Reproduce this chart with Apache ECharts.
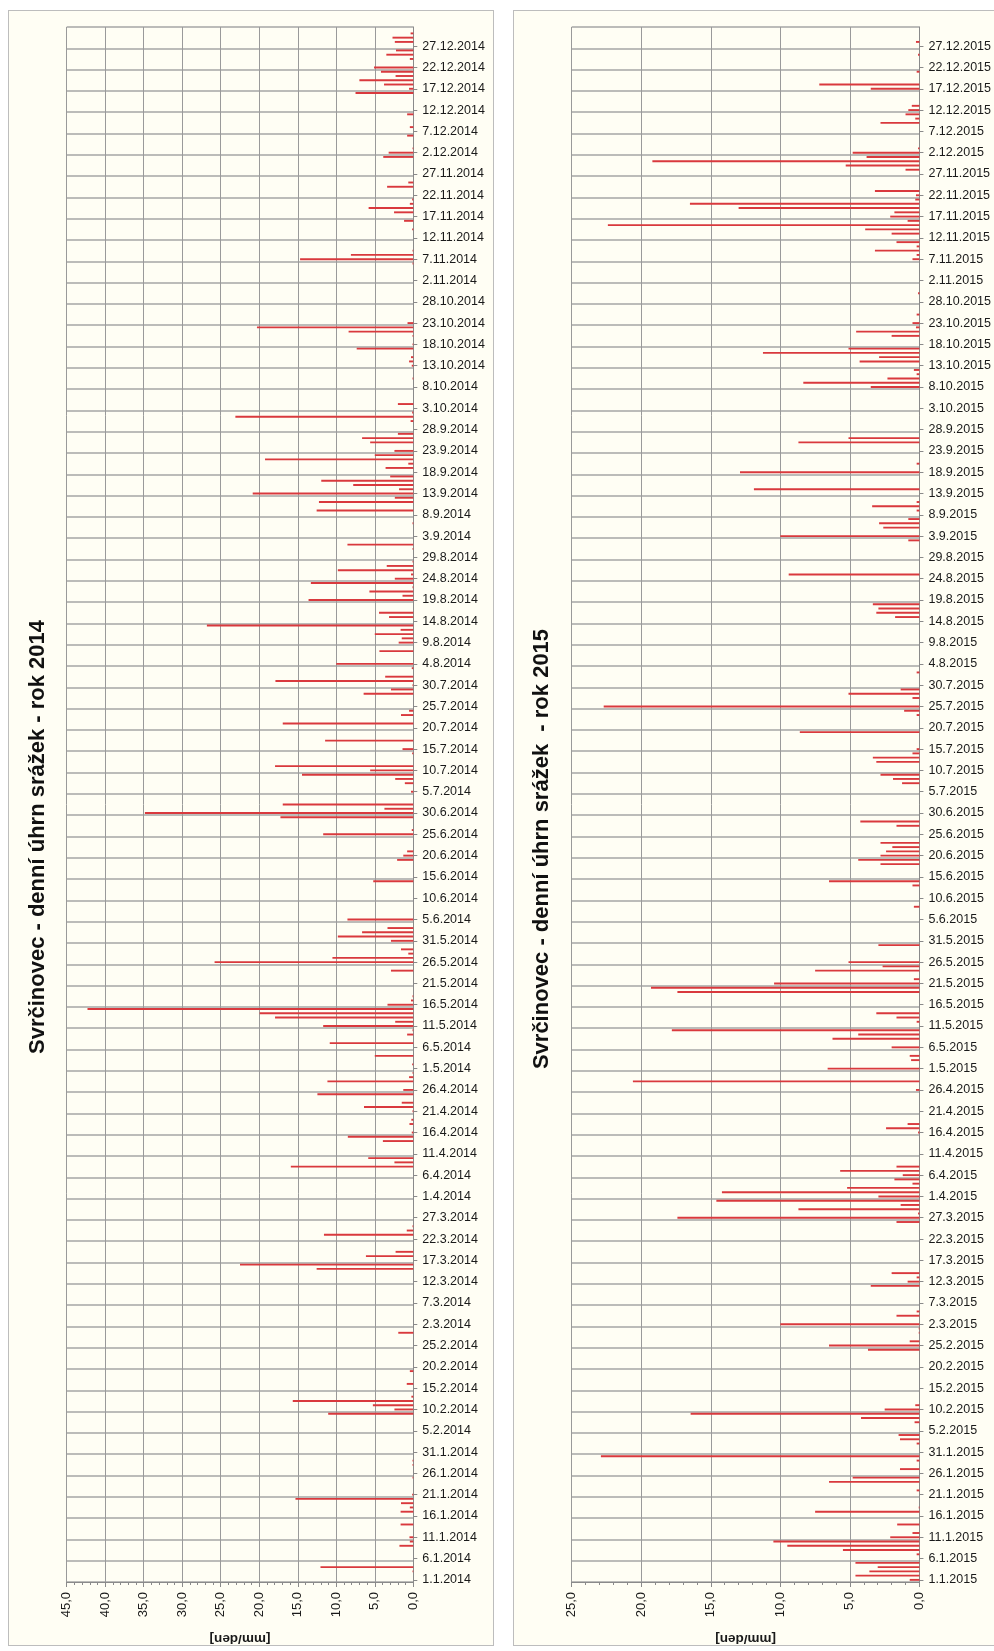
<!DOCTYPE html>
<html>
<head>
<meta charset="utf-8">
<script src="https://cdn.jsdelivr.net/npm/echarts@6/dist/echarts.min.js"></script>
<style>
  html, body { margin: 0; padding: 0; background: #ffffff; width: 994px; height: 1651px; overflow: hidden; }
  .panel { position: absolute; top: 10px; height: 1636px; background: #FFFEF4; border: 1px solid #BDBDBD; box-sizing: border-box; }
  #chart { position: absolute; left: 0; top: 0; width: 994px; height: 1651px; }
</style>
</head>
<body>
<div class="panel" style="left:8px; width:486px;"></div>
<div class="panel" style="left:513px; width:500px;"></div>
<div id="chart"></div>
<script>
// Denní úhrn srážek, Svrčinovec [mm/den] – jen dny se srážkami, ostatní dny = 0
const dny2014 = [
  '3.1','4.1','9.1','10.1','11.1','14.1','17.1','18.1','19.1','20.1','21.1','25.1','28.1','29.1',
  '9.2','10.2','11.2','12.2','13.2','16.2','19.2','28.2',
  '15.3','16.3','18.3','19.3','23.3','24.3','25.3',
  '8.4','9.4','10.4','14.4','15.4','16.4','18.4','19.4','21.4','22.4','23.4','25.4','26.4','28.4','29.4','30.4',
  '2.5','4.5','7.5','9.5','10.5','11.5','12.5','13.5','14.5','15.5','16.5','17.5','18.5','24.5','26.5','27.5','28.5','29.5','31.5',
  '1.6','2.6','3.6','5.6','14.6','19.6','20.6','21.6','25.6','26.6','29.6','30.6',
  '1.7','2.7','5.7','7.7','8.7','9.7','10.7','11.7','14.7','15.7','17.7','21.7','23.7','24.7','28.7','29.7','30.7','31.7',
  '1.8','3.8','4.8','7.8','9.8','10.8','11.8','12.8','13.8','15.8','16.8','19.8','20.8','21.8','22.8','23.8','24.8','25.8','26.8','27.8','28.8','31.8',
  '1.9','6.9','9.9','11.9','12.9','13.9','14.9','15.9','16.9','17.9','19.9','20.9','21.9','22.9','23.9','25.9','26.9','27.9','30.9',
  '1.10','2.10','4.10','10.10','13.10','14.10','15.10','17.10','18.10','20.10','21.10','22.10','23.10',
  '6.11','7.11','8.11','9.11','14.11','16.11','18.11','19.11','20.11','21.11','24.11','25.11',
  '1.12','2.12','3.12','6.12','8.12','11.12','16.12','17.12','18.12','19.12','20.12','21.12','22.12','24.12','25.12','26.12','28.12','29.12','30.12'
];
const uhrn2014 = [
  0.1, 12.05, 1.8, 0.45, 0.5, 1.65, 1.65, 0.45, 1.6, 15.3, 0.15, 0.1, 0.1, 0.1,
  11.05, 2.45, 5.25, 15.65, 0.25, 0.85, 0.45, 1.95,
  12.55, 22.5, 6.15, 2.3, 11.6, 0.85, 0.1,
  15.9, 2.45, 5.85, 3.95, 8.5, 0.2, 0.5, 0.25, 0.1, 6.4, 1.5, 12.45, 1.3, 11.15, 0.55, 0.1,
  0.15, 5.0, 10.85, 0.8, 0.1, 11.7, 2.35, 17.95, 19.95, 42.3, 3.35, 0.3, 0.1, 2.9, 25.8, 10.5, 0.65, 1.6, 2.9,
  9.8, 6.65, 3.35, 8.55, 5.2, 2.1, 1.3, 0.8, 11.7, 0.2, 17.25, 34.85,
  3.75, 16.95, 0.3, 1.1, 2.35, 14.45, 5.6, 17.95, 0.15, 1.4, 11.45, 16.95, 1.6, 0.55, 6.45, 2.9, 0.1, 17.9,
  3.65, 0.2, 10.0, 4.4, 1.9, 1.5, 5.0, 1.65, 26.8, 3.15, 4.45, 13.6, 1.4, 5.7, 0.1, 13.3, 2.4, 0.3, 9.8, 3.45, 0.1, 0.1,
  8.55, 0.1, 12.55, 12.25, 2.4, 20.85, 1.85, 7.8, 11.95, 3.0, 3.6, 0.65, 19.25, 5.0, 2.45, 5.6, 6.65, 2.0, 0.35,
  23.1, 0.15, 2.0, 0.1, 0.2, 0.55, 0.3, 7.35, 0.1, 0.1, 8.4, 20.3, 0.75,
  0.1, 14.7, 8.1, 0.1, 0.15, 1.2, 2.5, 5.8, 0.45, 0.15, 3.4, 0.65,
  3.9, 3.2, 0.1, 0.8, 0.45, 0.8, 7.5, 0.55, 3.8, 7.0, 2.3, 4.2, 5.1, 0.45, 3.5, 2.25, 2.4, 2.7, 0.35
];

const dny2015 = [
  '1.1','2.1','3.1','4.1','5.1','7.1','8.1','9.1','10.1','11.1','12.1','14.1','17.1','18.1','22.1','24.1','25.1','27.1','29.1','30.1',
  '2.2','3.2','4.2','7.2','8.2','9.2','10.2','11.2','24.2','25.2','26.2','28.2',
  '1.3','2.3','4.3','5.3','11.3','12.3','13.3','14.3','26.3','27.3','28.3','29.3','30.3','31.3',
  '1.4','2.4','3.4','4.4','5.4','6.4','7.4','8.4','16.4','17.4','18.4','26.4','28.4',
  '1.5','3.5','4.5','6.5','8.5','9.5','10.5','12.5','13.5','14.5','19.5','20.5','21.5','22.5','24.5','25.5','26.5','30.5',
  '8.6','13.6','14.6','18.6','19.6','20.6','21.6','22.6','23.6','27.6','28.6',
  '7.7','8.7','9.7','12.7','13.7','14.7','15.7','19.7','23.7','24.7','25.7','27.7','28.7','29.7',
  '2.8','15.8','16.8','17.8','18.8','25.8',
  '2.9','3.9','5.9','6.9','7.9','9.9','10.9','11.9','14.9','18.9','20.9','25.9','26.9',
  '8.10','9.10','10.10','11.10','12.10','14.10','15.10','16.10','17.10','20.10','21.10','22.10','23.10','25.10','30.10',
  '7.11','8.11','9.11','10.11','11.11','13.11','14.11','15.11','16.11','17.11','18.11','19.11','20.11','21.11','22.11','23.11','28.11','29.11','30.11',
  '1.12','2.12','3.12','9.12','10.12','11.12','12.12','13.12','17.12','18.12','21.12','25.12','28.12'
];
const uhrn2015 = [
  0.7, 4.6, 3.6, 3.0, 4.6, 0.2, 5.5, 9.5, 10.5, 2.1, 0.5, 1.6, 7.5, 0.05, 0.2, 6.5, 4.8, 1.4, 0.2, 22.9,
  0.2, 1.4, 1.5, 0.35, 4.2, 16.45, 2.5, 0.3, 3.7, 6.5, 0.7, 0.05,
  0.05, 10.0, 1.65, 0.2, 3.5, 0.85, 0.2, 2.0, 1.65, 17.4, 0.1, 8.7, 1.35, 14.6,
  2.95, 14.2, 5.2, 0.5, 1.8, 1.2, 5.7, 1.65, 0.1, 2.4, 0.85, 0.25, 20.6,
  6.6, 0.6, 0.7, 2.0, 6.25, 4.4, 17.8, 0.2, 1.65, 3.1, 17.4, 19.3, 10.45, 0.4, 7.5, 2.65, 5.1, 2.95,
  0.4, 0.5, 6.5, 2.8, 4.4, 2.8, 2.4, 1.95, 2.8, 1.65, 4.25,
  1.25, 1.9, 2.8, 3.1, 3.35, 0.5, 0.2, 8.6, 0.2, 1.1, 22.7, 0.5, 5.1, 1.35,
  0.2, 1.75, 3.1, 2.95, 3.35, 9.4,
  0.8, 10.0, 2.6, 2.9, 0.8, 0.2, 3.4, 0.2, 11.9, 12.9, 0.2, 8.7, 5.1,
  3.5, 8.35, 2.3, 0.2, 0.4, 4.3, 2.9, 11.25, 5.1, 2.0, 4.55, 0.25, 0.5, 0.2, 0.1,
  0.5, 0.2, 3.2, 0.2, 1.65, 2.0, 3.9, 22.4, 0.85, 2.1, 1.8, 13.0, 16.5, 0.3, 0.25, 3.2, 1.0, 5.3, 19.2,
  3.8, 4.8, 0.1, 2.8, 0.3, 1.0, 0.8, 0.55, 3.5, 7.2, 0.2, 0.1, 0.25
];

// rozsahy os [mm/den]
const osaMax2014 = 45;
const osaMax2015 = 25;
const krokOsy = 5;

const nadpis2014 = 'Svrčinovec - denní úhrn srážek - rok 2014';
const nadpis2015 = 'Svrčinovec - denní úhrn srážek  - rok 2015';
const nazevOsy = '[mm/den]';

// popisky všech dnů roku (d.m.rrrr)
function dnyRoku(rok) {
  const out = [];
  const start = Date.UTC(rok, 0, 1);
  for (let t = start; new Date(t).getUTCFullYear() === rok; t += 86400000) {
    const d = new Date(t);
    out.push(d.getUTCDate() + '.' + (d.getUTCMonth() + 1) + '.' + rok);
  }
  return out;
}
// celoroční řada: dny bez záznamu mají 0
function rada(rok, dny, hodnoty) {
  const n = dnyRoku(rok).length;
  const arr = new Array(n).fill(0);
  const start = Date.UTC(rok, 0, 1);
  dny.forEach((s, i) => {
    const [d, m] = s.split('.').map(Number);
    const idx = Math.round((Date.UTC(rok, m - 1, d) - start) / 86400000);
    arr[idx] = hodnoty[i];
  });
  return arr;
}

const FONT = '"Liberation Sans", Arial, sans-serif';
const osaBarva = '#8A8A8A';
const textBarva = '#1A1A1A';

function osaX(grid, max) {
  return {
    gridIndex: grid, type: 'value', inverse: true, min: 0, max: max, interval: krokOsy,
    axisLine: { show: true, lineStyle: { color: osaBarva, width: 1 } },
    axisTick: { show: true, length: 5, lineStyle: { color: osaBarva } },
    minorTick: { show: true, splitNumber: 5, length: 3, lineStyle: { color: osaBarva } },
    splitLine: { show: true, lineStyle: { color: '#9A9A9A', width: 1 } },
    axisLabel: {
      rotate: 90, margin: 10, fontSize: 13, color: textBarva, fontFamily: FONT,
      formatter: v => v.toFixed(1).replace('.', ',')
    },
    name: nazevOsy, nameLocation: 'middle', nameGap: 50, nameRotate: 180,
    nameTextStyle: { fontWeight: 'bold', fontSize: 13.5, color: textBarva, fontFamily: FONT }
  };
}
function osaY(grid, rok) {
  return {
    gridIndex: grid, type: 'category', position: 'right', data: dnyRoku(rok),
    axisLine: { show: true, lineStyle: { color: osaBarva, width: 1 } },
    axisTick: { show: true, interval: 4, alignWithLabel: true, length: 4, lineStyle: { color: osaBarva } },
    axisLabel: { interval: 4, margin: 9, fontSize: 12.5, color: textBarva, fontFamily: FONT },
    splitLine: { show: true, interval: 4, lineStyle: { color: '#A6A6A6', width: 1.5 } }
  };
}
function sloupce(i, data) {
  return {
    type: 'bar', xAxisIndex: i, yAxisIndex: i, data: data, barWidth: 1.9,
    itemStyle: { color: '#D9393D' }, silent: true
  };
}
function nadpis(x, y, text) {
  return {
    type: 'text', x: x, y: y, rotation: Math.PI / 2,
    style: {
      text: text, font: 'bold 22px ' + FONT, fill: '#111111',
      align: 'center', verticalAlign: 'middle', textAlign: 'center', textVerticalAlign: 'middle'
    }
  };
}

const chart = echarts.init(document.getElementById('chart'), null, { renderer: 'canvas' });
chart.setOption({
  animation: false,
  backgroundColor: 'transparent',
  grid: [
    { left: 66.7, top: 27, width: 346.6, height: 1555.3 },
    { left: 571.7, top: 27, width: 353.6, height: 1555.3 }
  ],
  xAxis: [osaX(0, osaMax2014), osaX(1, osaMax2015)],
  yAxis: [osaY(0, 2014), osaY(1, 2015)],
  series: [sloupce(0, rada(2014, dny2014, uhrn2014)), sloupce(1, rada(2015, dny2015, uhrn2015))],
  graphic: [nadpis(38, 837, nadpis2014), nadpis(542, 849, nadpis2015)]
});
</script>
</body>
</html>
